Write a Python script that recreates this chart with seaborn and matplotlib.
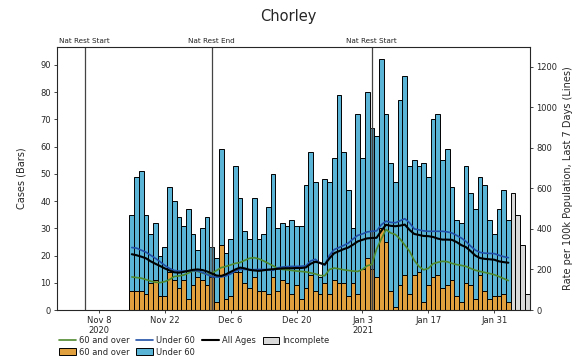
import numpy as np
import pandas as pd
import matplotlib
matplotlib.use("Agg")
import matplotlib.pyplot as plt
from matplotlib.lines import Line2D
from matplotlib.patches import Patch
import seaborn as sns

# ---------------- data ----------------
start_date = "2020-11-15"
total_cases = [35, 49, 51, 35, 28, 32, 20, 23, 45, 40, 34, 31, 37, 28, 22, 30, 34,
               23, 19, 59, 21, 26, 53, 41, 29, 26, 41, 26, 28, 38, 50, 30, 32, 31,
               33, 31, 31, 46, 58, 47, 12, 48, 47, 56, 79, 58, 44, 30, 72, 56, 80,
               67, 64, 92, 72, 54, 47, 77, 86, 53, 55, 53, 54, 49, 70, 72, 55, 59,
               45, 33, 32, 53, 43, 37, 49, 46, 33, 28, 37, 44, 33]
over60_cases = [7, 7, 7, 6, 10, 11, 5, 5, 14, 11, 8, 11, 4, 9, 12, 11, 9,
                12, 3, 24, 4, 5, 14, 14, 10, 8, 12, 7, 7, 6, 12, 7, 11, 10,
                6, 9, 4, 8, 13, 7, 6, 10, 6, 11, 10, 10, 5, 10, 6, 15, 19,
                15, 12, 30, 25, 7, 1, 9, 13, 6, 13, 14, 3, 9, 12, 13, 8, 9,
                11, 5, 3, 10, 9, 4, 13, 7, 4, 5, 5, 6, 3]
incomplete_cases = [43, 35, 24, 6]

rate_all = [275, 270, 263, 255, 240, 228, 217, 205, 195, 186, 184, 188, 193, 198,
            200, 197, 190, 180, 170, 168, 176, 188, 200, 209, 205, 198, 195, 193,
            196, 199, 201, 203, 205, 206, 206, 207, 207, 210, 228, 238, 232, 224,
            255, 280, 290, 300, 308, 322, 338, 346, 353, 355, 356, 390, 420, 415,
            413, 416, 421, 395, 375, 370, 365, 364, 360, 352, 347, 347, 346, 335,
            320, 310, 290, 268, 256, 252, 250, 248, 240, 236, 233]
rate_under60 = [308, 305, 295, 285, 270, 255, 238, 220, 205, 195, 192, 192, 193, 194,
                193, 185, 175, 165, 162, 163, 168, 178, 192, 200, 200, 199, 199, 200,
                200, 198, 196, 208, 212, 214, 215, 215, 216, 218, 242, 250, 230, 222,
                270, 298, 308, 318, 330, 350, 368, 375, 385, 388, 390, 420, 438, 432,
                430, 440, 450, 430, 400, 395, 390, 388, 388, 388, 388, 385, 380, 368,
                355, 338, 315, 295, 284, 280, 279, 278, 270, 263, 258]
rate_over60 = [163, 160, 157, 150, 142, 137, 135, 140, 150, 165, 168, 172, 182, 193,
               190, 182, 176, 180, 195, 209, 215, 222, 230, 234, 245, 255, 258, 252,
               242, 230, 218, 205, 200, 198, 195, 192, 190, 188, 183, 178, 170, 169,
               200, 207, 203, 198, 195, 192, 190, 200, 218, 225, 300, 350, 397, 380,
               372, 350, 320, 290, 245, 215, 198, 205, 228, 235, 240, 238, 230, 224,
               220, 215, 205, 196, 190, 185, 180, 174, 165, 155, 145]

tick_dates = ["2020-11-08", "2020-11-22", "2020-12-06", "2020-12-20",
              "2021-01-03", "2021-01-17", "2021-01-31"]
tick_labels = ["Nov 8\n2020", "Nov 22", "Dec 6", "Dec 20", "Jan 3\n2021", "Jan 17", "Jan 31"]

event_dates = ["2020-11-05", "2020-12-02", "2021-01-05"]
event_labels = ["Nat Rest Start", "Nat Rest End", "Nat Rest Start"]

# ---------------- derived ----------------
t0 = pd.Timestamp(start_date)
def day(d):
    return (pd.Timestamp(d) - t0).days

n = len(total_cases)
days = np.arange(n)
inc_days = np.arange(n, n + len(incomplete_cases))
tick_pos = [day(d) for d in tick_dates]
event_pos = [day(d) for d in event_dates]
event_shade = [total_cases[i] if i in event_pos else 0 for i in range(n)]

c_under = "#5ab4d6"
c_over = "#e0a03e"
c_inc = "#d9d9d9"
c_l_all = "black"
c_l_under = "#2050a8"
c_l_over = "#4f8a2e"

sns.set_style("ticks")
plt.rcParams["font.family"] = ["DejaVu Sans"]

fig = plt.figure(figsize=(5.77, 3.64), dpi=100)
ax = fig.add_axes([57 / 577, 1 - 310 / 364, (530 - 57) / 577, (310 - 46.7) / 364])

bar_kw = dict(native_scale=True, width=1.0, saturation=1, edgecolor="black",
              linewidth=0.7, errorbar=None, ax=ax)
sns.barplot(x=days, y=total_cases, color=c_under, **bar_kw)
sns.barplot(x=days, y=over60_cases, color=c_over, **bar_kw)
sns.barplot(x=inc_days, y=incomplete_cases, color=c_inc, **bar_kw)

# darken bars on event days
sns.barplot(x=days, y=event_shade, color="#444444", native_scale=True, width=1.0,
            saturation=1, linewidth=0, errorbar=None, ax=ax, alpha=0.35)

for p, lab in zip(event_pos, event_labels):
    ax.axvline(p, color="#444444", linewidth=0.9, zorder=5)
    ax.text(p, 1.012, lab, transform=ax.get_xaxis_transform(), ha="center",
            va="bottom", fontsize=5.2, color="#222222")

ax.set_xlim(-15.9, 84.6)
ax.set_ylim(0, 96.7)
ax.set_yticks(np.arange(0, 91, 10))
ax.set_xticks(tick_pos)
ax.set_xticklabels(tick_labels, linespacing=1.05)
ax.tick_params(axis="both", labelsize=6, length=2.5, width=0.6, pad=2)
ax.set_ylabel("Cases (Bars)", fontsize=7, labelpad=10)
ax.set_xlabel("")
for s in ax.spines.values():
    s.set_linewidth(0.7)

ax2 = ax.twinx()
sns.lineplot(x=days, y=rate_over60, ax=ax2, color=c_l_over, linewidth=1.2)
sns.lineplot(x=days, y=rate_under60, ax=ax2, color=c_l_under, linewidth=1.2)
sns.lineplot(x=days, y=rate_all, ax=ax2, color=c_l_all, linewidth=1.5)
ax2.set_ylim(0, 1298)
ax2.set_yticks(np.arange(0, 1201, 200))
ax2.tick_params(axis="y", labelsize=6, length=2.5, width=0.6, pad=2)
ax2.set_ylabel("Rate per 100k Population, Last 7 Days (Lines)", fontsize=7)
ax2.set_xlim(-15.9, 84.6)

fig.suptitle("Chorley", y=1 - 17 / 364, va="center", fontsize=10.5)

handles = [
    Line2D([], [], color=c_l_over, lw=1.2),
    Patch(facecolor=c_over, edgecolor="black", linewidth=0.7),
    Line2D([], [], color=c_l_under, lw=1.2),
    Patch(facecolor=c_under, edgecolor="black", linewidth=0.7),
    Line2D([], [], color=c_l_all, lw=1.5),
    Patch(facecolor=c_inc, edgecolor="black", linewidth=0.7),
]
labels = ["60 and over", "60 and over", "Under 60", "Under 60", "All Ages", "Incomplete"]
fig.legend(handles, labels, ncol=4, loc="upper left", frameon=False,
           bbox_to_anchor=(55 / 577, 1 - 332 / 364), fontsize=6,
           handlelength=2.0, handleheight=0.9, columnspacing=0.8,
           labelspacing=0.3, handletextpad=0.4, borderpad=0.0)

fig.savefig("out.png", dpi=100)
